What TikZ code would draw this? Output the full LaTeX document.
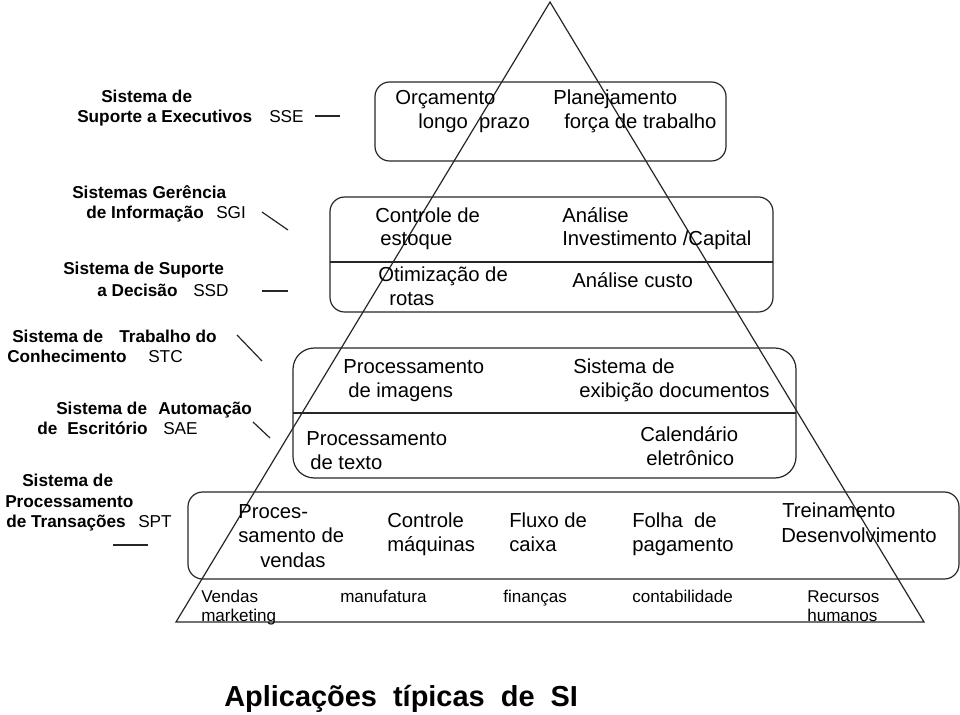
\documentclass[tikz,border=0pt]{standalone}
\usepackage{fontspec}
\setmainfont{Liberation Sans}
\begin{document}
\begin{tikzpicture}[x=0.75pt,y=-0.75pt,
  ln/.style={draw=black!85,line width=0.9pt},
  bx/.style={ln,rounded corners=#1},
  big/.style={anchor=base west,inner sep=0pt,font=\fontsize{15.2}{18}\selectfont},
  sml/.style={anchor=base west,inner sep=0pt,font=\fontsize{12.8}{15}\selectfont},
  lbl/.style={anchor=base west,inner sep=0pt,font=\fontsize{12.9}{15}\selectfont\bfseries},
  abbr/.style={anchor=base west,inner sep=0pt,font=\fontsize{12.9}{15}\selectfont},
  ttl/.style={anchor=base west,inner sep=0pt,font=\fontsize{21.7}{26}\selectfont\bfseries}]
\useasboundingbox (0,0) rectangle (960,714);

% boxes
\draw[bx=11pt] (375,82) rectangle (726,161);
\draw[bx=11pt] (330,197) rectangle (773,312);
\draw[ln] (330,262) -- (773,262);
\draw[bx=16pt] (293,348) rectangle (796,478);
\draw[ln] (293,413) -- (796,413);
\draw[bx=11pt] (188,492) rectangle (959,579);

% pyramid
\coordinate (apex) at (550,2);
\coordinate (bl) at (176,622);
\coordinate (br) at (924,622);
\draw[ln] (bl) -- (apex) -- (br) -- cycle;

% left labels
\node[lbl] (sse1) at (101,102) {Sistema de};
\node[lbl] (sse2) at (77,122) {Suporte a Executivos};
\node[abbr] (sse) at (269,122) {SSE};
\node[lbl] (sgi1) at (72,198) {Sistemas Gerência};
\node[lbl] (sgi2) at (86,218) {de Informação};
\node[abbr] (sgi) at (216,218) {SGI};
\node[lbl] (ssd1) at (63,274) {Sistema de Suporte};
\node[lbl] (ssd2) at (97,296) {a Decisão};
\node[abbr] (ssd) at (193,296) {SSD};
\node[lbl] (stc1) at (12,342) {Sistema de};
\node[lbl] (stc1b) at (119,342) {Trabalho do};
\node[lbl] (stc2) at (7,362) {Conhecimento};
\node[abbr] (stc) at (148,362) {STC};
\node[lbl] (sae1) at (56,414) {Sistema de};
\node[lbl] (sae1b) at (158,414) {Automação};
\node[lbl] (sae2) at (37,434) {de};
\node[lbl] (sae2b) at (67,434) {Escritório};
\node[abbr] (sae) at (163,434) {SAE};
\node[lbl] (spt1) at (22,486) {Sistema de};
\node[lbl] (spt2) at (5,507) {Processamento};
\node[lbl] (spt3) at (6,527) {de Transações};
\node[abbr] (spt) at (138,527) {SPT};

% label marks
\coordinate (m1a) at (315,116); \coordinate (m1b) at (340,116);
\coordinate (m2a) at (262,212); \coordinate (m2b) at (288,230);
\coordinate (m3a) at (262,291); \coordinate (m3b) at (288,291);
\coordinate (m4a) at (237,335); \coordinate (m4b) at (262,361);
\coordinate (m5a) at (253,422); \coordinate (m5b) at (270,438);
\coordinate (m6a) at (113,545); \coordinate (m6b) at (148,545);
\draw[ln] (m1a) -- (m1b);
\draw[ln] (m2a) -- (m2b);
\draw[ln] (m3a) -- (m3b);
\draw[ln] (m4a) -- (m4b);
\draw[ln] (m5a) -- (m5b);
\draw[ln] (m6a) -- (m6b);

% box 1
\node[big] (b1a) at (395,104) {Orçamento};
\node[big] (b1b) at (418,128) {longo~~prazo};
\node[big] (b1c) at (553,104) {Planejamento};
\node[big] (b1d) at (564,128) {força de trabalho};
% box 2
\node[big] (b2a) at (375,222) {Controle de};
\node[big] (b2b) at (380,245) {estoque};
\node[big] (b2c) at (378,281) {Otimização de};
\node[big] (b2d) at (389,305) {rotas};
\node[big] (b2e) at (562,222) {Análise};
\node[big] (b2f) at (562,245) {Investimento /Capital};
\node[big] (b2g) at (572,287) {Análise custo};
% box 3
\node[big] (b3a) at (343,373) {Processamento};
\node[big] (b3b) at (348,397) {de imagens};
\node[big] (b3c) at (306,445) {Processamento};
\node[big] (b3d) at (310,469) {de texto};
\node[big] (b3e) at (573,373) {Sistema de};
\node[big] (b3f) at (579,397) {exibição documentos};
\node[big] (b3g) at (640,441) {Calendário};
\node[big] (b3h) at (646,465) {eletrônico};
% box 4
\node[big] (b4a) at (238,518) {Proces-};
\node[big] (b4b) at (238,542) {samento de};
\node[big] (b4c) at (260,567) {vendas};
\node[big] (b4d) at (387,527) {Controle};
\node[big] (b4e) at (387,551) {máquinas};
\node[big] (b4f) at (509,527) {Fluxo de};
\node[big] (b4g) at (509,551) {caixa};
\node[big] (b4h) at (632,527) {Folha~~de};
\node[big] (b4i) at (632,551) {pagamento};
\node[big] (b4j) at (782,517) {Treinamento};
\node[big] (b4k) at (781,542) {Desenvolvimento};
% areas
\node[sml] (a1) at (201,602) {Vendas};
\node[sml] (a1b) at (201,621) {marketing};
\node[sml] (a2) at (340,602) {manufatura};
\node[sml] (a3) at (503,602) {finanças};
\node[sml] (a4) at (632,602) {contabilidade};
\node[sml] (a5) at (807,602) {Recursos};
\node[sml] (a5b) at (807,621) {humanos};
% title
\node[ttl] (title) at (224,706) {Aplicações~~típicas~~de~~SI};
\end{tikzpicture}
\end{document}
